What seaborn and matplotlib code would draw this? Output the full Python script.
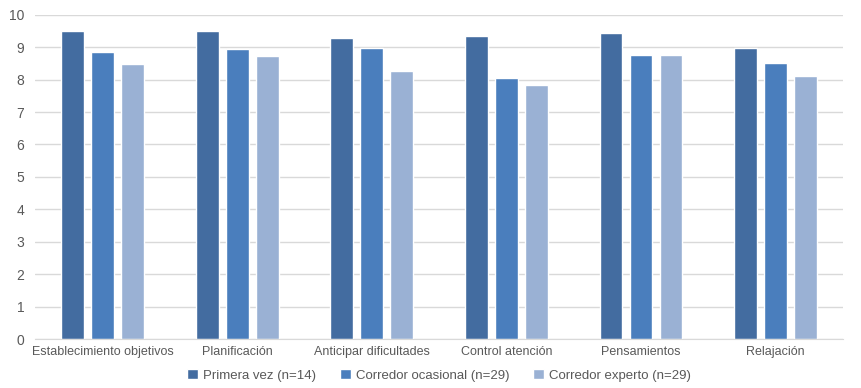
import matplotlib
matplotlib.use("Agg")
import matplotlib.pyplot as plt
import pandas as pd
import seaborn as sns

# Datos
categorias = ["Establecimiento objetivos", "Planificación", "Anticipar dificultades",
              "Control atención", "Pensamientos", "Relajación"]
grupos = ["Primera vez (n=14)", "Corredor ocasional (n=29)", "Corredor experto (n=29)"]
primera_vez = [9.50, 9.50, 9.29, 9.33, 9.44, 8.98]
ocasional = [8.85, 8.93, 8.98, 8.05, 8.75, 8.51]
experto = [8.48, 8.72, 8.26, 7.84, 8.75, 8.12]
colores = ["#436ca0", "#4a7ebd", "#9ab1d4"]

df = pd.DataFrame({
    "categoria": categorias * 3,
    "grupo": [g for g in grupos for _ in categorias],
    "valor": primera_vez + ocasional + experto,
})

sns.set_style("white")
plt.rcParams["font.family"] = ["Liberation Sans", "DejaVu Sans"]

fig, ax = plt.subplots(figsize=(8.61, 3.88), dpi=100)
fig.subplots_adjust(left=0.041, right=0.979, top=0.962, bottom=0.126)

sns.barplot(data=df, x="categoria", y="valor", hue="grupo", palette=colores,
            width=0.67, gap=0.24, ax=ax, saturation=1)

ax.set_ylim(0, 10)
ax.set_xlim(-0.5, 5.5)
ax.set_yticks(range(0, 11))
ax.yaxis.grid(True, color="#d9d9d9", linewidth=1)
ax.set_axisbelow(True)
for s in ["top", "right", "left"]:
    ax.spines[s].set_visible(False)
ax.spines["bottom"].set_color("#d9d9d9")
ax.tick_params(axis="both", length=0, colors="#595959", labelsize=9)
ax.tick_params(axis="y", labelsize=10, pad=8)
ax.tick_params(axis="x", pad=5)
ax.set_xlabel("")
ax.set_ylabel("")

ax.legend(loc="center", bbox_to_anchor=(0.5, -0.112), ncol=3, frameon=False,
          fontsize=9.5, handlelength=0.8, handleheight=0.8, handletextpad=0.4,
          columnspacing=1.8, labelcolor="#595959")

fig.savefig("out.png", dpi=100)
